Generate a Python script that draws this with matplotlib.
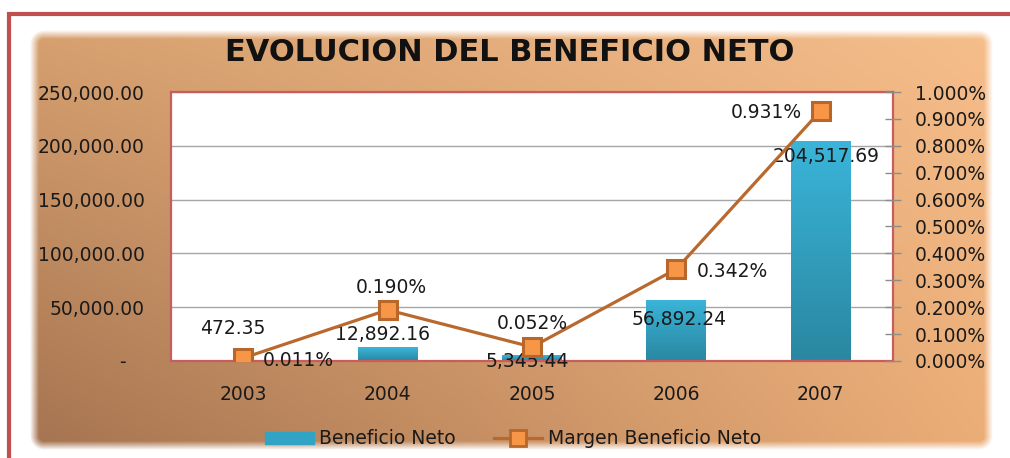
import numpy as np
import matplotlib
matplotlib.use("Agg")
import matplotlib.pyplot as plt
from matplotlib.patches import Rectangle
from matplotlib.lines import Line2D
from matplotlib.colors import LinearSegmentedColormap
from matplotlib.ticker import FuncFormatter, MultipleLocator

# data
years = ['2003', '2004', '2005', '2006', '2007']
beneficio = [472.35, 12892.16, 5345.44, 56892.24, 204517.69]
margen = [0.011, 0.190, 0.052, 0.342, 0.931]   # in percent

# where Excel put the data labels (pixel offsets from the point)
bar_lab_off = [(-10, 34), (-5, 15), (-5, -4), (3, -18), (5, -14)]
line_lab_off = [(55, 0), (4, 24), (0, 26), (56, 0), (-54, 0)]

W, H = 1010, 458
RED = '#C0504D'
FS = 13.5
fig = plt.figure(figsize=(W / 100, H / 100), dpi=100)

# ---- background: soft rounded panel with brown->orange gradient
bg = fig.add_axes([0, 0, 1, 1])
bg.set_xlim(0, W)
bg.set_ylim(H, 0)
bg.axis('off')
yy, xx = np.mgrid[0:H, 0:W] + 0.5
u = np.clip((xx - 30) / 963, 0, 1)[..., None]
v = np.clip((yy - 30) / 420, 0, 1)[..., None]
tl = np.array([0xd7, 0xa0, 0x6f]) / 255
tr = np.array([0xf6, 0xbe, 0x8b]) / 255
bl = np.array([0xa4, 0x73, 0x50]) / 255
br = np.array([0xec, 0xae, 0x78]) / 255
rgb = (tl * (1 - u) + tr * u) * (1 - v) + (bl * (1 - u) + br * u) * v
x0, x1, y0, y1, r = 30, 993, 30, 450, 14
qx = np.abs(xx - (x0 + x1) / 2) - ((x1 - x0) / 2 - r)
qy = np.abs(yy - (y0 + y1) / 2) - ((y1 - y0) / 2 - r)
d = np.hypot(np.maximum(qx, 0), np.maximum(qy, 0)) + np.minimum(np.maximum(qx, qy), 0) - r
alpha = np.clip(-d / 9, 0, 1)
bg.imshow(np.dstack([rgb, alpha]), extent=(0, W, H, 0), aspect='auto',
          interpolation='bilinear')
bg.plot([7, W], [14, 14], color=RED, lw=3, solid_capstyle='butt')
bg.plot([9, 9], [12, H], color=RED, lw=3, solid_capstyle='butt')

fig.text(0.505, 1 - 61 / H, 'EVOLUCION DEL BENEFICIO NETO', ha='center',
         va='baseline', fontsize=22, fontweight='bold', color='#111111')

# ---- main plot
ax = fig.add_axes([171 / W, 1 - 361 / H, 722 / W, 269 / H])
ax.set_facecolor('white')
x = np.arange(len(years))
bars = ax.bar(x, beneficio, width=0.415, color='#31A3C4', zorder=2)
cmap = LinearSegmentedColormap.from_list('bar', ['#3AB5D9', '#2A87A1'])
grad = np.linspace(0, 1, 100)[:, None]
for b in bars:
    im = ax.imshow(grad, extent=[b.get_x(), b.get_x() + b.get_width(), 0, b.get_height()],
                   cmap=cmap, aspect='auto', origin='upper', zorder=2.1)
    im.set_clip_path(b)
ax.set_xlim(-0.5, 4.5)
ax.set_ylim(0, 250000)
ax.yaxis.set_major_locator(MultipleLocator(50000))
ax.yaxis.set_major_formatter(FuncFormatter(lambda v, p: '-   ' if v == 0 else f'{v:,.2f}'))
ax.tick_params(axis='y', length=0, pad=19, labelsize=FS, labelcolor='#1a1a1a')
ax.set_xticks(x, years)
ax.tick_params(axis='x', length=0, pad=17, labelsize=FS, labelcolor='#1a1a1a')
ax.grid(axis='y', color='#A6A6A6', lw=1)
ax.set_axisbelow(True)
for s in ax.spines.values():
    s.set_color('#C95C5C')
    s.set_linewidth(1.6)

for i in range(len(years)):
    ax.annotate(f'{beneficio[i]:,.2f}', (x[i], beneficio[i]), xytext=bar_lab_off[i],
                textcoords='offset pixels', ha='center', va='center_baseline',
                fontsize=FS, color='#1a1a1a', zorder=4)

ax2 = ax.twinx()
ax2.set_ylim(0, 1.0)
ax2.yaxis.set_major_locator(MultipleLocator(0.1))
ax2.yaxis.set_major_formatter(FuncFormatter(lambda v, p: f'{v:.3f}%'))
ax2.tick_params(axis='y', direction='inout', length=11, width=1, color='#8C8C8C',
                pad=10, labelsize=FS, labelcolor='#1a1a1a')
for s in ax2.spines.values():
    s.set_visible(False)
ax2.plot(x, margen, color='#B9692D', lw=2.3, marker='s', ms=13, mfc='#F79646',
         mec='#B8672B', mew=2.2, zorder=3)
for i in range(len(years)):
    ax2.annotate(f'{margen[i]:.3f}%', (x[i], margen[i]), xytext=line_lab_off[i],
                 textcoords='offset pixels', ha='center', va='center_baseline',
                 fontsize=FS, color='#1a1a1a')

handles = [Rectangle((0, 0), 1, 1, color='#31A3C4'),
           Line2D([], [], color='#B9692D', lw=2.3, marker='s', ms=11,
                  mfc='#F79646', mec='#B8672B', mew=2)]
fig.legend(handles, ['Beneficio Neto', 'Margen Beneficio Neto'], loc='center',
           bbox_to_anchor=(0.508, 1 - 439 / H), ncol=2, frameon=False, fontsize=FS,
           handlelength=2.6, handleheight=0.55, handletextpad=0.3, columnspacing=2.0,
           labelcolor='#1a1a1a')

fig.savefig('out.png', dpi=100)
